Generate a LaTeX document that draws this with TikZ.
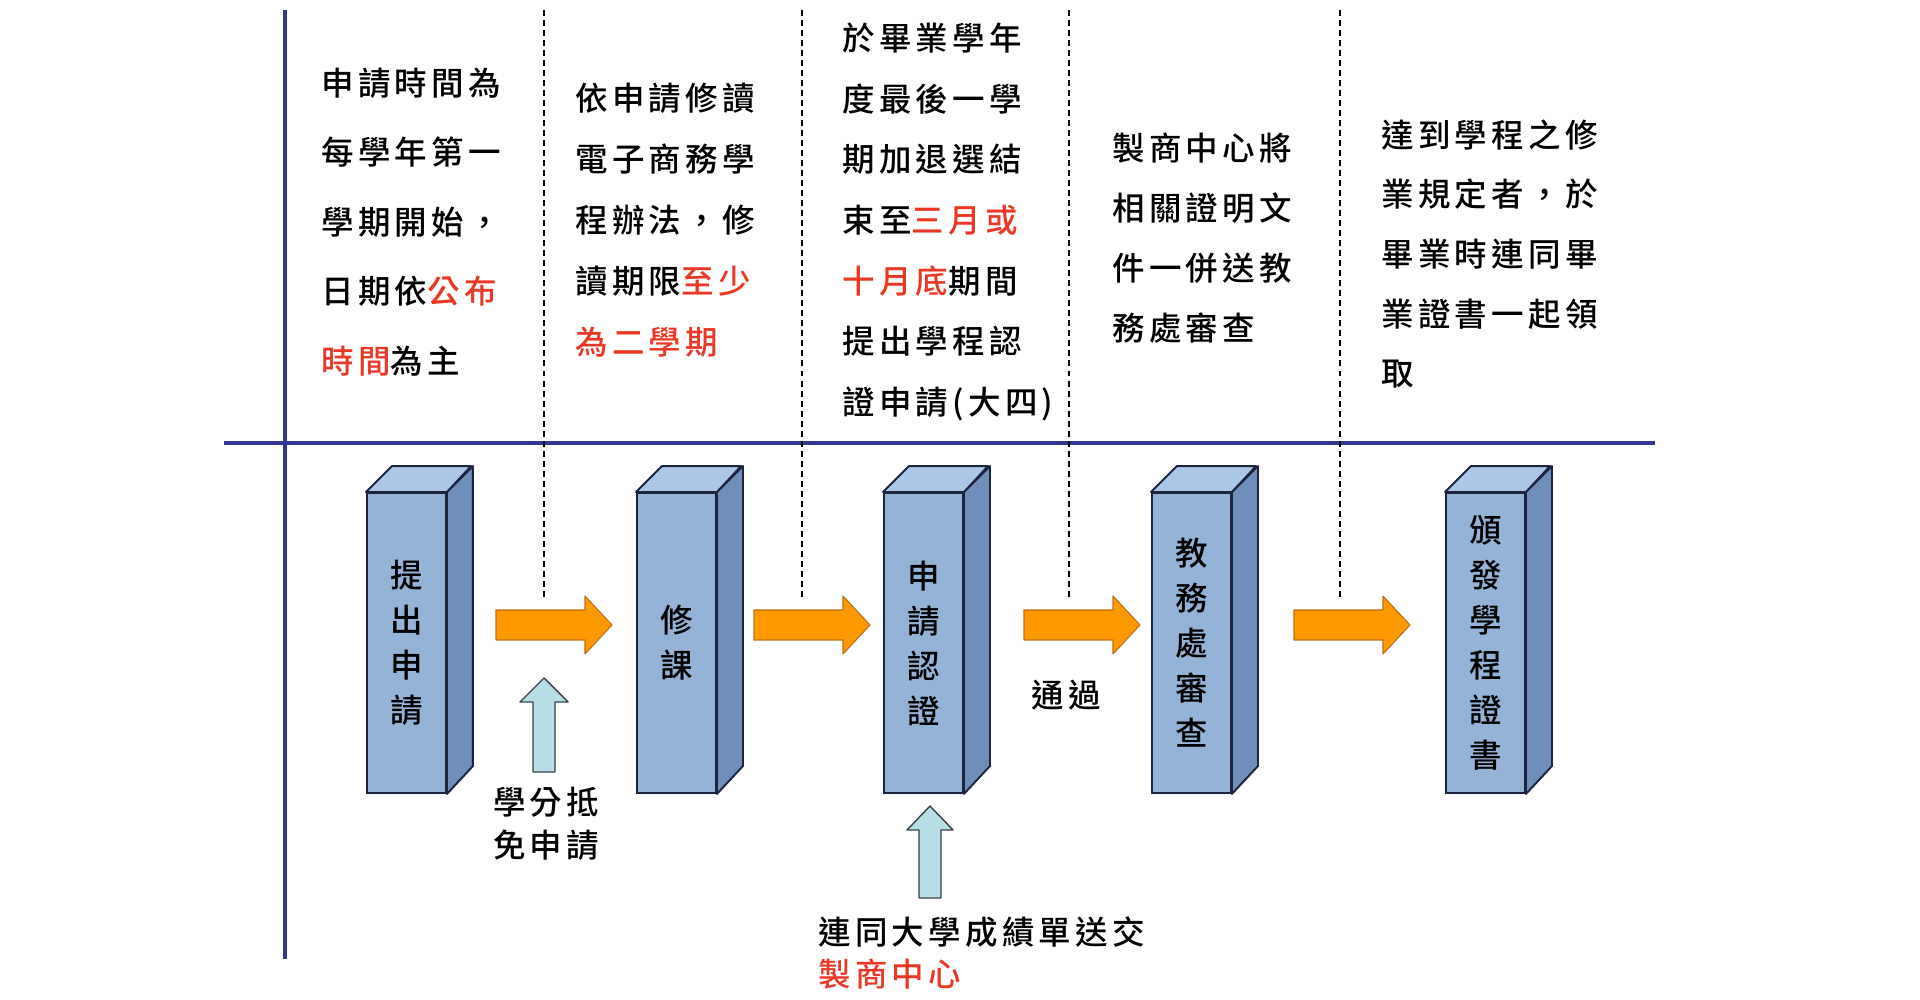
\documentclass[tikz,border=0pt]{standalone}
\usepackage{fontspec}
\setmainfont{Noto Sans CJK TC}[LetterSpace=13, UprightFont=* Medium]
\usetikzlibrary{calc}
\definecolor{framenavy}{RGB}{52, 54, 150}
\definecolor{hotred}{RGB}{235, 55, 35}
\definecolor{pillarfront}{RGB}{149, 179, 215}
\definecolor{pillartop}{RGB}{172, 198, 232}
\definecolor{pillarside}{RGB}{112, 142, 186}
\definecolor{pillarline}{RGB}{28, 36, 62}
\definecolor{flowfill}{RGB}{255, 153, 0}
\definecolor{flowline}{RGB}{190, 110, 20}
\definecolor{feedfill}{RGB}{183, 222, 228}
\definecolor{feedline}{RGB}{60, 64, 70}
\newcommand{\hot}[1]{\textcolor{hotred}{#1}}

\begin{document}
\begin{tikzpicture}[x=0.02cm, y=0.02cm,
    pillar/.style={draw=pillarline, line width=1.1pt, fill=pillarfront,
                   minimum width=1.58cm, minimum height=6cm, inner sep=0pt,
                   align=center, font=\fontsize{18.5}{25.6}\selectfont},
    pillaredge/.style={draw=pillarline, line width=1.1pt, line join=round},
    note/.style={anchor=west, inner sep=0pt, align=left},
    flow/.style={fill=flowfill, draw=flowline, line width=0.6pt, line join=round},
    feed/.style={fill=feedfill, draw=feedline, line width=0.8pt, line join=round},
    guide/.style={dash pattern=on 3.4pt off 2.3pt, line width=0.8pt}
]
    \useasboundingbox (0,0) rectangle (1920,1000);

    % Frame lines
    \draw[framenavy, line width=2pt] (285,990) -- (285,41);
    \draw[framenavy, line width=2pt] (224,557) -- (1655,557);
    \foreach \gx in {544,802,1069,1340}
        \draw[guide] (\gx,990) -- (\gx,400);

    % Notes above the line
    \node[note, font=\fontsize{18.5}{39.5}\selectfont] (noteapply) at (321,778)
        {申請時間為\\每學年第一\\學期開始，\\日期依\hot{公布}\\\hot{時間}為主};
    \node[note, font=\fontsize{18.5}{34.7}\selectfont] (notecourse) at (575,780)
        {依申請修讀\\電子商務學\\程辦法，修\\讀期限\hot{至少}\\\hot{為二學期}};
    \node[note, font=\fontsize{18.5}{34.5}\selectfont] (notecert) at (842,778)
        {於畢業學年\\度最後一學\\期加退選結\\束至\hot{三月或}\\\hot{十月底}期間\\提出學程認\\證申請(大四)};
    \node[note, font=\fontsize{18.5}{34.1}\selectfont] (notereview) at (1112,762)
        {製商中心將\\相關證明文\\件一併送教\\務處審查};
    \node[note, font=\fontsize{18.5}{34}\selectfont] (noteissue) at (1381,746)
        {達到學程之修\\業規定者，於\\畢業時連同畢\\業證書一起領\\取};

    % Pillars
    \node[pillar] (apply)  at (406.5,357) {提\\出\\申\\請};
    \node[pillar] (course) at (676.5,357) {修\\課};
    \node[pillar] (cert)   at (923.5,357) {申\\請\\認\\證};
    \node[pillar] (review) at (1191.5,357) {教\\務\\處\\審\\查};
    \node[pillar] (issue)  at (1485.5,357) {頒\\發\\學\\程\\證\\書};
    \foreach \p in {apply,course,cert,review,issue} {
        \draw[pillaredge, fill=pillartop] (\p.north west) -- ++(26,26)
            -- ++(79,0) -- (\p.north east) -- cycle;
        \draw[pillaredge, fill=pillarside] (\p.north east) -- ++(26,26)
            -- ++(0,-300) -- (\p.south east) -- cycle;
    }

    % Orange flow arrows
    \foreach \fx in {496,754,1024,1294}
        \draw[flow] (\fx,360) -- ++(89,0) -- ++(0,-14) -- ++(27,29)
            -- ++(-27,29) -- ++(0,-14) -- ++(-89,0) -- cycle;

    % Side inputs
    \node[font=\fontsize{18.5}{24.5}\selectfont, align=center, inner sep=0pt]
        (waiver) at (546,176.5) {學分抵\\免申請};
    \draw[feed] (533,228) -- ++(0,70) -- ++(-13,0) -- ++(24,24)
        -- ++(24,-24) -- ++(-13,0) -- ++(0,-70) -- cycle;
    \node[font=\fontsize{18.5}{24}\selectfont, inner sep=0pt] (pass) at (1066,304.5) {通過};
    \node[note, font=\fontsize{18.5}{24}\selectfont] (transcript) at (818,47)
        {連同大學成績單送交\\\hot{製商中心}};
    \draw[feed] (919,102) -- ++(0,68) -- ++(-12,0) -- ++(23,24)
        -- ++(23,-24) -- ++(-12,0) -- ++(0,-68) -- cycle;
\end{tikzpicture}
\end{document}
